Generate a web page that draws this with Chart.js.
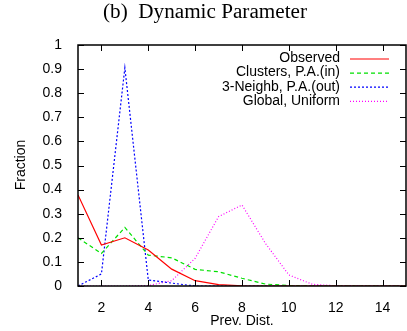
<!DOCTYPE html>
<html>
<head>
<meta charset="utf-8">
<script src="https://cdn.jsdelivr.net/npm/chart.js@4"></script>
<style>
html, body { margin: 0; padding: 0; background: #fff; }
#wrap { width: 407px; height: 331px; }
</style>
</head>
<body>
<div id="wrap"><canvas id="myChart" width="407" height="331"></canvas></div>
<script>
let dist = [1, 2, 3, 4, 5, 6, 7, 8, 9, 10, 11, 12, 13, 14, 15];
let observed = [0.378, 0.17, 0.20, 0.149, 0.07, 0.022, 0.006, 0.001, 0, 0, 0, 0, 0, 0, 0];
let clusters = [0.20, 0.135, 0.243, 0.128, 0.117, 0.069, 0.059, 0.032, 0.008, 0.002, 0, 0, 0, 0, 0];
let neighb = [0, 0.05, 0.905, 0.025, 0.012, 0, 0, 0, 0, 0, 0, 0, 0, 0, 0];
let uniform = [0, 0, 0, 0.002, 0.022, 0.115, 0.288, 0.336, 0.177, 0.046, 0.007, 0.001, 0, 0, 0];
let xTicks = [2, 4, 6, 8, 10, 12, 14];
let yTicks = [0, 0.1, 0.2, 0.3, 0.4, 0.5, 0.6, 0.7, 0.8, 0.9, 1];
let labels = ['Observed', 'Clusters, P.A.(in)', '3-Neighb, P.A.(out)', 'Global, Uniform'];
let colorHex = ['#ff0000', '#00e000', '#0000ff', '#ff00ff'];
let dashes = [[], [4, 3], [2, 2], [1, 2]];
let series = [observed, clusters, neighb, uniform];

let ctx = document.getElementById('myChart').getContext('2d');

// frame, inside ticks, legend and titles like gnuplot
let gnuplotLook = {
    id: 'gnuplotLook',
    afterDraw(chart) {
        let c = chart.ctx;
        let a = chart.chartArea;
        let xs = chart.scales.x, ys = chart.scales.y;
        c.save();
        c.strokeStyle = '#000';
        c.lineWidth = 1;
        c.setLineDash([]);
        c.beginPath();
        xTicks.forEach(v => {
            let px = Math.round(xs.getPixelForValue(v)) + 0.5;
            c.moveTo(px, a.bottom); c.lineTo(px, a.bottom - 6);
            c.moveTo(px, a.top); c.lineTo(px, a.top + 6);
        });
        yTicks.forEach(v => {
            let py = Math.round(ys.getPixelForValue(v)) + 0.5;
            c.moveTo(a.left, py); c.lineTo(a.left + 6, py);
            c.moveTo(a.right, py); c.lineTo(a.right - 6, py);
        });
        c.stroke();
        c.lineWidth = 1.5;
        c.strokeRect(a.left, a.top, a.right - a.left, a.bottom - a.top);

        // legend
        c.font = '14px "Liberation Sans", Arial, sans-serif';
        c.textAlign = 'right';
        c.textBaseline = 'middle';
        labels.forEach((t, i) => {
            let y = 58.5 + i * 14.1;
            c.fillStyle = '#000';
            c.fillText(t, 340, y);
            c.strokeStyle = colorHex[i];
            c.lineWidth = 1.2;
            c.setLineDash(dashes[i]);
            c.beginPath();
            c.moveTo(350, y + 0.5); c.lineTo(389, y + 0.5);
            c.stroke();
        });
        c.setLineDash([]);

        // titles
        c.fillStyle = '#000';
        c.textAlign = 'center';
        c.font = '14px "Liberation Sans", Arial, sans-serif';
        c.fillText('Prev. Dist.', 242, 321);
        c.save();
        c.translate(21, 165);
        c.rotate(-Math.PI / 2);
        c.fillText('Fraction', 0, 0);
        c.restore();

        let title = '(b)  Dynamic Parameter';
        c.font = '20px "Liberation Serif", "Times New Roman", serif';
        let w = c.measureText(title).width;
        c.translate(205, 13);
        c.scale(204 / w, 1);
        c.fillText(title, 0, 0);
        c.restore();
    }
};

let myChart = new Chart(ctx, {
    type: 'line',
    data: {
        labels: dist,
        datasets: series.map((s, i) => ({
            label: labels[i],
            data: s.map((v, j) => ({ x: dist[j], y: v })),
            borderColor: colorHex[i],
            borderDash: dashes[i],
            borderWidth: 1.2,
            pointRadius: 0,
            tension: 0,
            fill: false
        }))
    },
    options: {
        responsive: false,
        animation: false,
        layout: { padding: { top: 45, right: 1, left: 0, bottom: 0 } },
        plugins: {
            legend: { display: false },
            title: { display: false },
            tooltip: { enabled: false }
        },
        scales: {
            x: {
                type: 'linear',
                min: 1,
                max: 15,
                afterBuildTicks: s => { s.ticks = xTicks.map(v => ({ value: v })); },
                afterFit: s => { s.height = 45; },
                grid: { display: false },
                border: { display: false },
                ticks: {
                    padding: 6,
                    color: '#000',
                    font: { family: '"Liberation Sans", Arial, sans-serif', size: 14 },
                    maxRotation: 0
                }
            },
            y: {
                min: 0,
                max: 1,
                afterBuildTicks: s => { s.ticks = yTicks.map(v => ({ value: v })); },
                afterFit: s => { s.width = 78; },
                grid: { display: false },
                border: { display: false },
                ticks: {
                    padding: 8,
                    color: '#000',
                    font: { family: '"Liberation Sans", Arial, sans-serif', size: 14 },
                    callback: v => String(Math.round(v * 10) / 10)
                }
            }
        }
    },
    plugins: [gnuplotLook]
});
</script>
</body>
</html>
